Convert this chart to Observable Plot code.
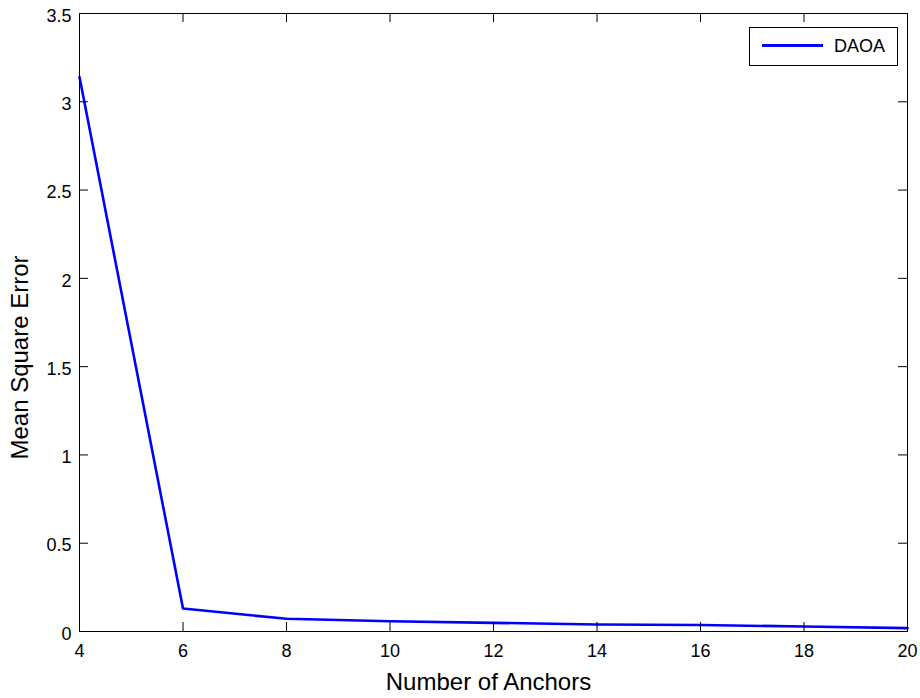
<!DOCTYPE html>
<html>
<head>
<meta charset="utf-8">
<script src="https://cdn.jsdelivr.net/npm/d3@7"></script>
<script src="https://cdn.jsdelivr.net/npm/@observablehq/plot@0.6"></script>
<style>
  html, body { margin: 0; padding: 0; background: #fff; }
  #wrap { position: relative; width: 920px; height: 698px; font-family: "Liberation Sans", Arial, sans-serif; }
  #legend { position: absolute; left: 749px; top: 27px; width: 147px; height: 37px; border: 1px solid #000; background: #fff; box-sizing: content-box; }
  #legend .sw { position: absolute; left: 12px; top: 16px; width: 61px; height: 2.6px; background: #0000ff; }
  #legend .lab { position: absolute; left: 84px; top: 8px; font-size: 18px; line-height: 20px; color: #000; }
</style>
</head>
<body>
<div id="wrap"></div>
<script>
// ---- data ----
const anchors = [4, 6, 8, 10, 12, 14, 16, 18, 20];
const mse = [3.14, 0.13, 0.072, 0.058, 0.049, 0.040, 0.037, 0.028, 0.019];
const seriesName = "DAOA";
const xTicks = [4, 6, 8, 10, 12, 14, 16, 18, 20];
const yTicks = [0, 0.5, 1, 1.5, 2, 2.5, 3, 3.5];
const xTitle = "Number of Anchors";
const yTitle = "Mean Square Error";

const rows = anchors.map((a, i) => ({anchors: a, mse: mse[i]}));

// ---- layout ----
const W = 920, H = 698;
const mL = 79, mR = 13, mT = 13, mB = 67;
const plotW = W - mL - mR, plotH = H - mT - mB;
const tickLen = 9;
const font = "Liberation Sans, Arial, sans-serif";

const chart = Plot.plot({
  width: W,
  height: H,
  marginLeft: mL, marginRight: mR, marginTop: mT, marginBottom: mB,
  style: {fontFamily: font, fontSize: "18px", background: "#fff", color: "#000"},
  x: {domain: [4, 20], label: null},
  y: {domain: [0, 3.5], label: null},
  marks: [
    Plot.line(rows, {x: "anchors", y: "mse", stroke: "#0000ff", strokeWidth: 2.6}),
    Plot.frame({stroke: "#000", strokeWidth: 1}),
    // inward ticks on all four sides
    Plot.tickX(xTicks, {x: d => d, insetTop: plotH - tickLen, stroke: "#000"}),
    Plot.tickX(xTicks, {x: d => d, insetBottom: plotH - tickLen, stroke: "#000"}),
    Plot.tickY(yTicks, {y: d => d, insetRight: plotW - tickLen, stroke: "#000"}),
    Plot.tickY(yTicks, {y: d => d, insetLeft: plotW - tickLen, stroke: "#000"}),
    // tick labels
    Plot.axisX({ticks: xTicks, tickSize: 0, tickPadding: 13, label: null, fontSize: 18, tickFormat: d => String(d)}),
    Plot.axisY({ticks: yTicks, tickSize: 0, tickPadding: 8, label: null, fontSize: 18, dy: 2.5, tickFormat: d => String(d)}),
    // axis titles
    Plot.text([xTitle], {frameAnchor: "bottom", text: d => d, textAnchor: "middle", lineAnchor: "middle", dy: 51, dx: -5, fontSize: 24, fill: "#000"}),
    Plot.text([yTitle], {frameAnchor: "left", text: d => d, rotate: -90, textAnchor: "middle", lineAnchor: "middle", dx: -59, dy: 35, fontSize: 24, fill: "#000"})
  ]
});

const wrap = document.getElementById("wrap");
wrap.appendChild(chart);
const leg = document.createElement("div");
leg.id = "legend";
leg.innerHTML = `<div class="sw"></div><div class="lab">${seriesName}</div>`;
wrap.appendChild(leg);
</script>
</body>
</html>
